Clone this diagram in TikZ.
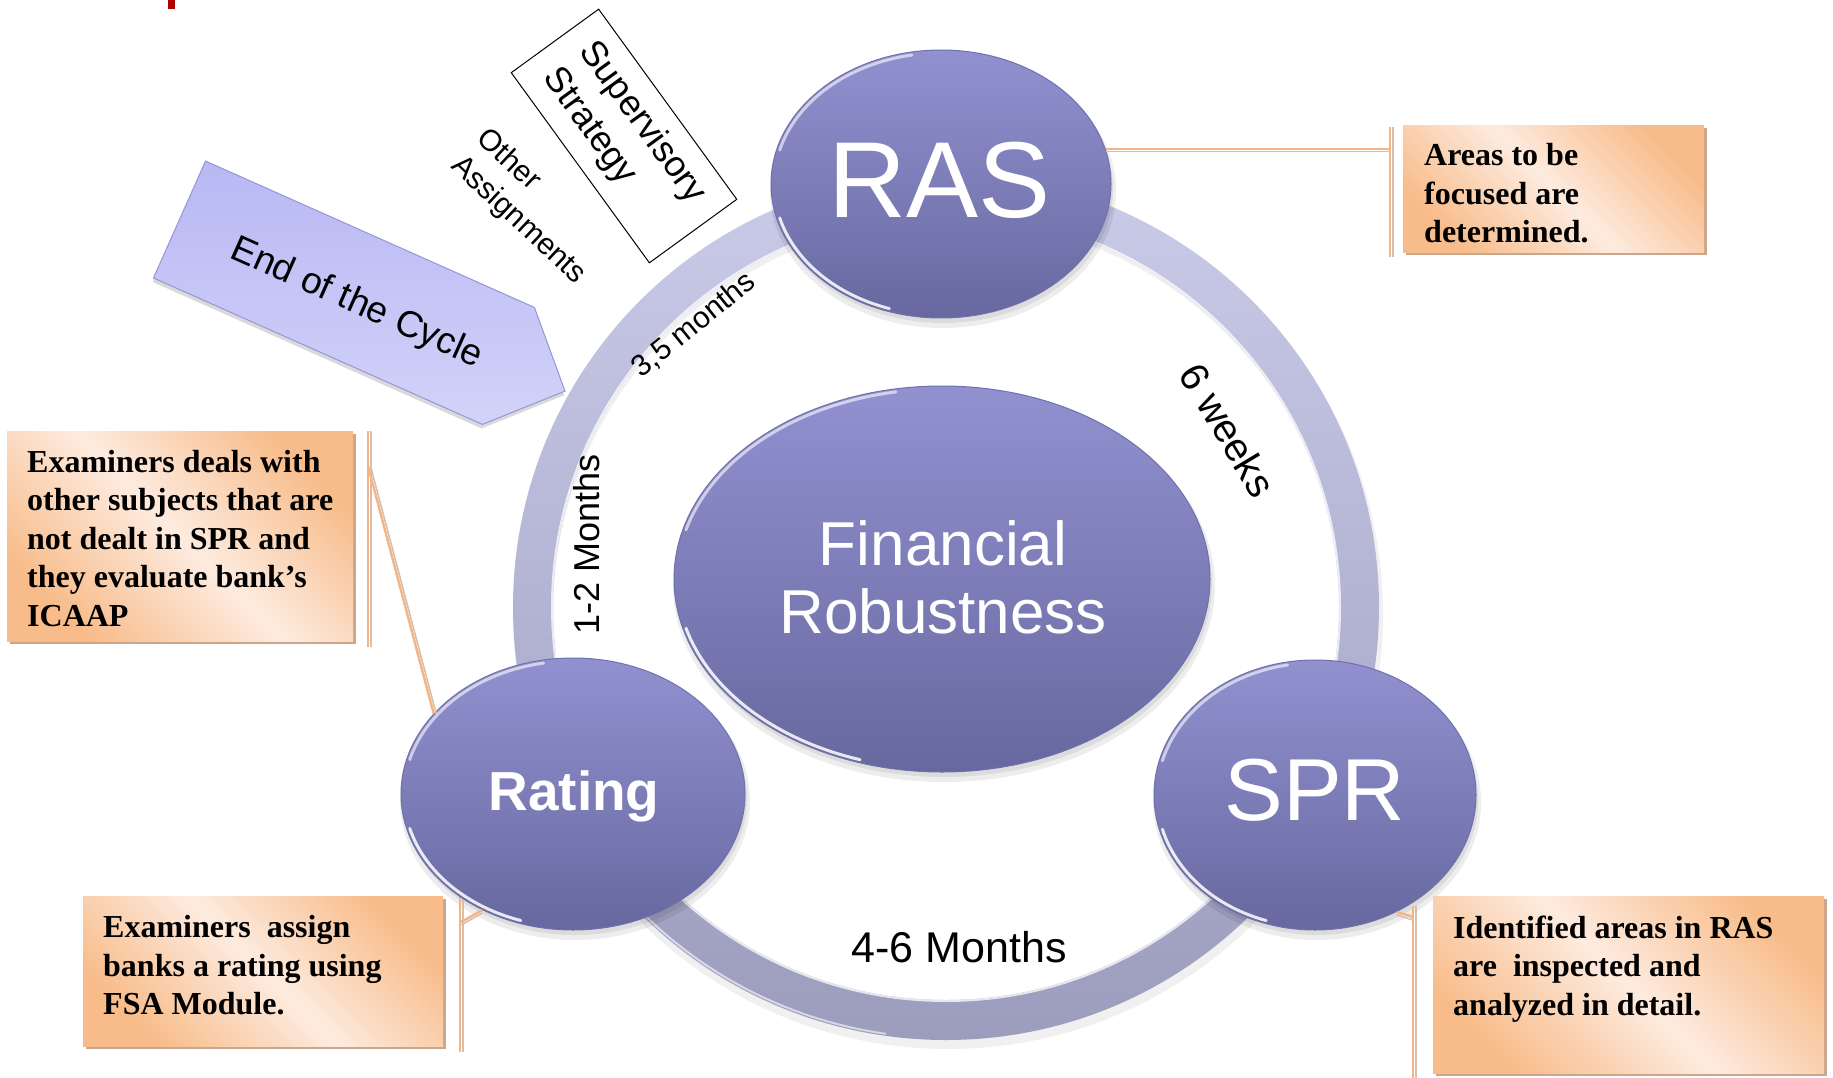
\documentclass[tikz,border=0pt]{standalone}
\usepackage{fontspec}
\setmainfont{Liberation Serif}
\setsansfont{Liberation Sans}
\usetikzlibrary{shapes.geometric,shadows}

\definecolor{orbtop}{HTML}{9191D0}
\definecolor{orbbot}{HTML}{6868A0}
\definecolor{orbedge}{HTML}{7070AE}
\definecolor{ringtop}{HTML}{CACAE9}
\definecolor{ringbot}{HTML}{9C9CBC}
\definecolor{peachdark}{HTML}{F8BC8A}
\definecolor{peachlight}{HTML}{FDEBDF}
\definecolor{peachshadow}{HTML}{C9A68C}
\definecolor{leaderorange}{HTML}{F4B483}
\definecolor{leadergray}{HTML}{D6C0AD}
\definecolor{arrowtop}{HTML}{B8B8F4}
\definecolor{arrowbot}{HTML}{D2D2F9}
\definecolor{arrowedge}{HTML}{9696D6}
\definecolor{markred}{HTML}{B00000}

% glossy rims on an orb: node name, x radius, y radius
\newcommand\orbrims[3]{%
  \draw[orbrim] ([shift={(100:#2 and #3)}]#1.center) arc[start angle=100, end angle=165, x radius=#2, y radius=#3];
  \draw[orbrim, opacity=0.85] ([shift={(195:#2 and #3)}]#1.center) arc[start angle=195, end angle=252, x radius=#2, y radius=#3];
}

\begin{document}
\begin{tikzpicture}[x=1pt, y=1pt,
  orb/.style={ellipse, inner sep=0pt, top color=orbtop, bottom color=orbbot, draw=orbedge, line width=1pt},
  orbshadow/.style={fill=black, opacity=0.07},
  orbrim/.style={white, line width=3pt, opacity=0.6, line cap=round},
  orbtext/.style={text=white, inner sep=0pt, anchor=base},
  ringlabel/.style={inner sep=0pt, text=black},
  notebox/.style={rectangle, inner sep=0pt, anchor=north west,
    top color=peachdark, bottom color=peachdark, middle color=peachlight, shading angle=-45,
    drop shadow={shadow xshift=3pt, shadow yshift=-3pt, fill=peachshadow, opacity=1}},
  notetext/.style={inner sep=0pt, anchor=north west, align=left, font=\bfseries\fontsize{32}{38.5}\selectfont},
  leader/.style={draw=leaderorange, line width=2.4pt},
  leadershade/.style={draw=leadergray, line width=1.6pt},
]
\useasboundingbox (0,0) rectangle (1833,-1078);
\fill[white] (0,0) rectangle (1833,-1078);

% small red mark at the top edge
\fill[markred] (168,0) rectangle (175,-9);

% ---------- the cycle ring ----------
\coordinate (hub) at (946,-607);
\fill[black, opacity=0.06, even odd rule] ([shift={(2,-7)}]hub) circle[radius=435] ([shift={(2,-7)}]hub) circle[radius=395];
\shade[top color=ringtop, bottom color=ringbot, even odd rule] (hub) circle[radius=433] (hub) circle[radius=393];
\draw[white, opacity=0.75, line width=2pt] (hub) circle[radius=394];
\draw[white, opacity=0.6, line width=2pt] ([shift={(190:431)}]hub) arc[start angle=190, end angle=262, radius=431];

% ---------- end-of-cycle arrow ----------
\begin{scope}[shift={(179.5,-219.5)}, rotate=-24]
  \fill[black, opacity=0.15, shift={(1,-4)}] (0,64) -- (360,64) -- (422,0) -- (360,-64) -- (0,-64) -- cycle;
  \shadedraw[top color=arrowtop, bottom color=arrowbot, draw=arrowedge, line width=1pt]
    (0,64) -- (360,64) -- (422,0) -- (360,-64) -- (0,-64) -- cycle;
  \node[inner sep=0pt, transform shape, font=\sffamily\fontsize{37}{40}\selectfont] (cycleend) at (196,-5) {End of the Cycle};
\end{scope}

% ---------- supervisory strategy and other assignments ----------
\node[draw=black, line width=1pt, rotate=-54, minimum width=235pt, minimum height=108pt,
      inner sep=0pt, align=left, font=\sffamily\fontsize{36}{45}\selectfont] (strategy) at (624,-136) {Supervisory\\Strategy};
\node[ringlabel, rotate=-43, align=left, font=\sffamily\fontsize{30}{37}\selectfont] (other) at (531,-207) {Other\\Assignments};

% ---------- orb positions and shadows ----------
\coordinate (rasc) at (941,-184);
\coordinate (frc) at (942,-579);
\coordinate (ratingc) at (573,-794);
\coordinate (sprc) at (1315,-795);
\foreach \c/\rx/\ry in {rasc/170/134, frc/268/193, ratingc/172/136, sprc/161/135}{
  \fill[orbshadow] ([shift={(2,-7)}]\c) ellipse[x radius=\rx+3, y radius=\ry+3];
  \fill[orbshadow] ([shift={(2,-5)}]\c) ellipse[x radius=\rx, y radius=\ry];
}

% ---------- leader bars and note boxes ----------
\coordinate (bar1t) at (1390,-127);  \coordinate (bar1b) at (1390,-257);
\coordinate (bar2t) at (368,-431);   \coordinate (bar2b) at (368,-647);
\coordinate (bar3t) at (460,-896);   \coordinate (bar3b) at (460,-1052);
\coordinate (bar4t) at (1413,-906);  \coordinate (bar4b) at (1413,-1078);
\foreach \t/\b in {bar1t/bar1b, bar2t/bar2b, bar3t/bar3b, bar4t/bar4b}{
  \draw[leadershade] ([xshift=3pt]\t) -- ([xshift=3pt]\b);
  \draw[leader] (\t) -- (\b);
}

\node[notebox, minimum width=301pt, minimum height=127pt] (box1) at (1403,-125) {};
\node[notebox, minimum width=346pt, minimum height=210pt] (box2) at (7,-431) {};
\node[notebox, minimum width=360pt, minimum height=150pt] (box3) at (83,-896) {};
\node[notebox, minimum width=391pt, minimum height=177pt] (box4) at (1433,-896) {};

\node[notetext] (txt1) at (1424,-143.5) {Areas to be\\focused are\\determined.};
\node[notetext] (txt2) at (27,-450) {Examiners deals with\\other subjects that are\\not dealt in SPR and\\they evaluate bank’s\\ICAAP};
\node[notetext] (txt3) at (103,-915.5) {Examiners\ \ assign\\banks a rating using\\FSA Module.};
\node[notetext] (txt4) at (1453,-915.5) {Identified areas in RAS\\are\ \ inspected and\\analyzed in detail.};

% ---------- orbs ----------
\node[orb, minimum width=340pt, minimum height=268pt] (ras) at (rasc) {};
\node[orb, minimum width=536pt, minimum height=386pt] (fr) at (frc) {};
\node[orb, minimum width=344pt, minimum height=272pt] (rating) at (ratingc) {};
\node[orb, minimum width=322pt, minimum height=270pt] (spr) at (sprc) {};
\orbrims{ras}{167}{131}
\orbrims{fr}{265}{190}
\orbrims{rating}{169}{133}
\orbrims{spr}{158}{132}

% leaders from the notes to the orbs
\coordinate (lead2) at (368,-466);
\coordinate (lead3) at (461,-922);
\coordinate (lead4) at (1413,-917);
\draw[leadershade] ([yshift=-2.5pt]ras.12) -- ([yshift=-2.5pt]ras.12 -| bar1t);
\draw[leader] (ras.12) -- (ras.12 -| bar1t);
\draw[leadershade] ([xshift=2.5pt]lead2) -- ([xshift=2.5pt]rating.150);
\draw[leader] (lead2) -- (rating.150);
\draw[leadershade] ([yshift=-3pt]lead3) -- ([yshift=-3pt]rating.232);
\draw[leader] (lead3) -- (rating.232);
\draw[leadershade] ([yshift=-3pt]lead4) -- ([yshift=-3pt]spr.305);
\draw[leader] (lead4) -- (spr.305);

% ---------- orb labels ----------
\node[orbtext, font=\sffamily\fontsize{108}{110}\selectfont] (raslabel) at (939.5,-218) {RAS};
\node[orbtext, anchor=north, align=center, font=\sffamily\fontsize{62}{68}\selectfont] (frlabel) at (943,-520) {Financial\\Robustness};
\node[orbtext, font=\sffamily\bfseries\fontsize{55}{60}\selectfont] (ratinglabel) at (574,-810) {Rating};
\node[orbtext, font=\sffamily\fontsize{88}{90}\selectfont] (sprlabel) at (1315,-820) {SPR};

% ---------- durations on the ring ----------
\node[ringlabel, rotate=39, font=\sffamily\fontsize{30}{34}\selectfont] (dur35) at (694,-325) {3,5 months};
\node[ringlabel, rotate=90, font=\sffamily\fontsize{36}{40}\selectfont] (dur12) at (587,-544) {1-2 Months};
\node[ringlabel, rotate=-59, font=\sffamily\fontsize{40}{44}\selectfont] (dur6w) at (1228,-430) {6 weeks};
\node[ringlabel, font=\sffamily\fontsize{43}{46}\selectfont] (dur46) at (959,-947) {4-6 Months};

\end{tikzpicture}
\end{document}
